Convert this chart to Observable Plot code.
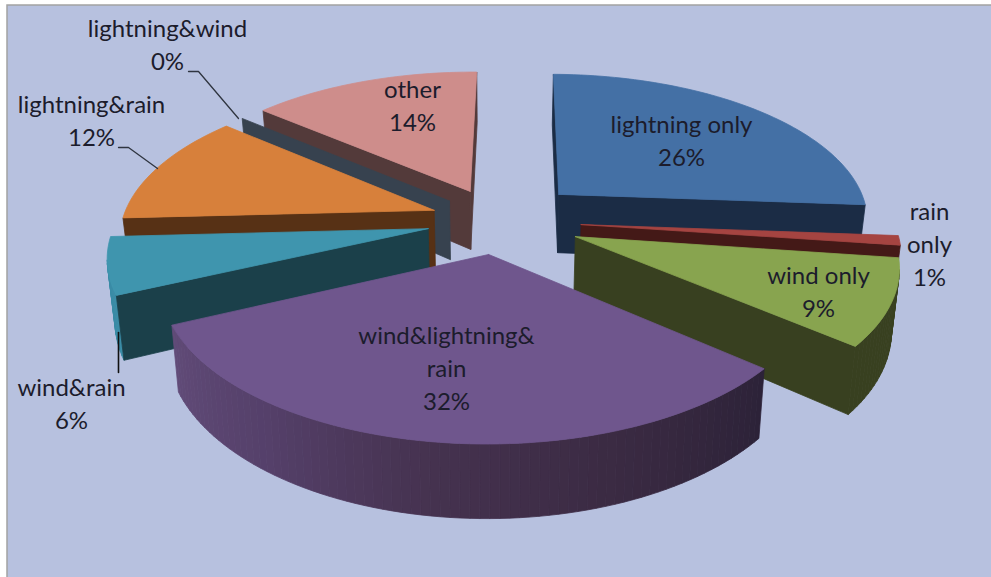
<!DOCTYPE html>
<html>
<head>
<meta charset="utf-8">
<script src="https://cdn.jsdelivr.net/npm/d3@7"></script>
<script src="https://cdn.jsdelivr.net/npm/@observablehq/plot@0.6"></script>
<style>
  html, body { margin: 0; padding: 0; background: #fff; }
  svg { display: block; }
</style>
</head>
<body>
<div id="chart"></div>
<script>
// Storm type shares, in pie order, clockwise from twelve o'clock
const names = ["lightning only", "rain\nonly", "wind only", "wind&lightning&\nrain", "wind&rain", "lightning&rain", "lightning&wind", "other"];
const shares = [26, 1, 9, 32, 6, 12, 0, 14];
// How far each slice is pulled out of the pie, as a fraction of the radius
const explosion = [0.27, 0.265, 0.265, 0.225, 0.23, 0.22, 0.21, 0.225];
const topColors = ["#4470a5", "#a54441", "#88a44f", "#6f568d", "#3f95ae", "#d7803b", "#37424f", "#ce8d8b"];
const wallColors = ["#1b2c45", "#441917", "#384020", "#2c2238", "#1b404a", "#573115", "#37424f", "#533a3a"];
const rimColors = [null, null, null, null, "#3a8ca6", null, null, null];
const purpleShade = ["#2c2238", "#3a2a42", "#45324f", "#55406a", "#614b78"];
// Slices are painted from the back of the scene to the front
const paintOrder = [7, 6, 5, 4, 0, 1, 2, 3];
// Label anchors for each slice (centre of the first line)
const labelX = [681, 929, 818, 446, 71, 91, 167, 412];
const labelY = [126, 213, 277, 337, 389, 106, 30, 91];

// Camera model for the tilted pie
const view = {cx: 498, cy: 220, A: 312, B: 147, k: 0.16, H: 60, taper: 0.98, firstAngle: 0.6};
const camera = [0, 1 / view.k];

function project(x, y, z = 0) {
  const w = 1 / (1 - view.k * y);
  return {
    x: view.cx + view.A * x * w * (1 - (1 - view.taper) * z),
    y: view.cy + (view.B * y + view.H * z) * w
  };
}

// Angles from the shares
const total = d3.sum(shares);
const turn = view.firstAngle * Math.PI / 180;
let running = 0;
const slices = shares.map((value, i) => {
  const start = turn + running / total * 2 * Math.PI;
  running += value;
  const end = turn + running / total * 2 * Math.PI;
  const mid = (start + end) / 2;
  return {i, start, end, ox: explosion[i] * Math.sin(mid), oy: -explosion[i] * Math.cos(mid)};
});

const rimPoint = (s, a, z) => project(s.ox + Math.sin(a), s.oy - Math.cos(a), z);
const hubPoint = (s, z) => project(s.ox, s.oy, z);
const shape = (points, color) => Plot.line([...points, points[0]], {
  x: "x", y: "y", fill: color, stroke: color, strokeWidth: 0.8
});

function sliceMarks(s) {
  const marks = [];
  const wall = wallColors[s.i];
  const step = Math.PI / 120;
  const n = Math.max(1, Math.ceil((s.end - s.start) / step));
  const angles = d3.range(n + 1).map(j => s.start + (s.end - s.start) * j / n);

  // Curved outer wall, cut into facets so it can carry shading
  if (s.end > s.start) {
    const shade = d3.scaleLinear()
      .domain(d3.range(purpleShade.length).map(j => s.start + (s.end - s.start) * j / (purpleShade.length - 1)))
      .range(purpleShade)
      .interpolate(d3.interpolateLab);
    for (let j = 0; j < n; j++) {
      const a = angles[j], b = angles[j + 1], m = (a + b) / 2;
      const nx = Math.sin(m), ny = -Math.cos(m);
      const facing = nx * (camera[0] - s.ox - nx) + ny * (camera[1] - s.oy - ny);
      if (facing <= 0) continue;
      const color = s.i === 3 ? shade(m) : (rimColors[s.i] || wall);
      marks.push(shape([rimPoint(s, a, 0), rimPoint(s, b, 0), rimPoint(s, b, 1), rimPoint(s, a, 1)], color));
    }
  }

  // Flat cut faces, drawn only when they turn toward the camera
  const cutFace = (a, sign) => {
    const nx = sign * Math.cos(a), ny = sign * Math.sin(a);
    if (nx * (camera[0] - s.ox) + ny * (camera[1] - s.oy) <= 0) return;
    marks.push(shape([hubPoint(s, 0), rimPoint(s, a, 0), rimPoint(s, a, 1), hubPoint(s, 1)], wall));
  };
  cutFace(s.start, -1);
  cutFace(s.end, 1);

  // Top face
  if (s.end > s.start) {
    marks.push(shape([hubPoint(s, 0), ...angles.map(a => rimPoint(s, a, 0))], topColors[s.i]));
  }
  return marks;
}

const labels = names.map((name, i) => ({text: `${name}\n${shares[i]}%`, x: labelX[i], y: labelY[i]}));

// Leader lines for the labels sitting outside the pie
const leaderRows = [
  {id: "lightning&wind", x: 188, y: 71}, {id: "lightning&wind", x: 198, y: 71}, {id: "lightning&wind", x: 238, y: 118},
  {id: "lightning&rain", x: 118, y: 147}, {id: "lightning&rain", x: 128, y: 147}, {id: "lightning&rain", x: 157, y: 168}
];
const leaderStraight = [{x: 118, y: 332}, {x: 118, y: 372}];

const chart = Plot.plot({
  width: 991,
  height: 577,
  margin: 0,
  x: {domain: [0, 991], axis: null},
  y: {domain: [577, 0], axis: null},
  style: {background: "#fff"},
  marks: [
    Plot.rect([{x1: 7, x2: 1000, y1: 5, y2: 590}], {
      x1: "x1", x2: "x2", y1: "y1", y2: "y2", fill: "#b7c1df", stroke: "#a3a3a3", strokeWidth: 1.5
    }),
    ...paintOrder.flatMap(i => sliceMarks(slices[i])),
    Plot.line(leaderRows, {x: "x", y: "y", z: "id", stroke: "#2f3540", strokeWidth: 1.3}),
    Plot.line(leaderStraight, {x: "x", y: "y", stroke: "#111", strokeWidth: 1.6}),
    Plot.text(labels, {
      x: "x", y: "y", text: "text", textAnchor: "middle", lineAnchor: "top", lineHeight: 1.375, dy: -17,
      fontSize: 24, fontFamily: "Lato, sans-serif", fill: "#1c1c2c"
    })
  ]
});
document.getElementById("chart").appendChild(chart);
</script>
</body>
</html>
